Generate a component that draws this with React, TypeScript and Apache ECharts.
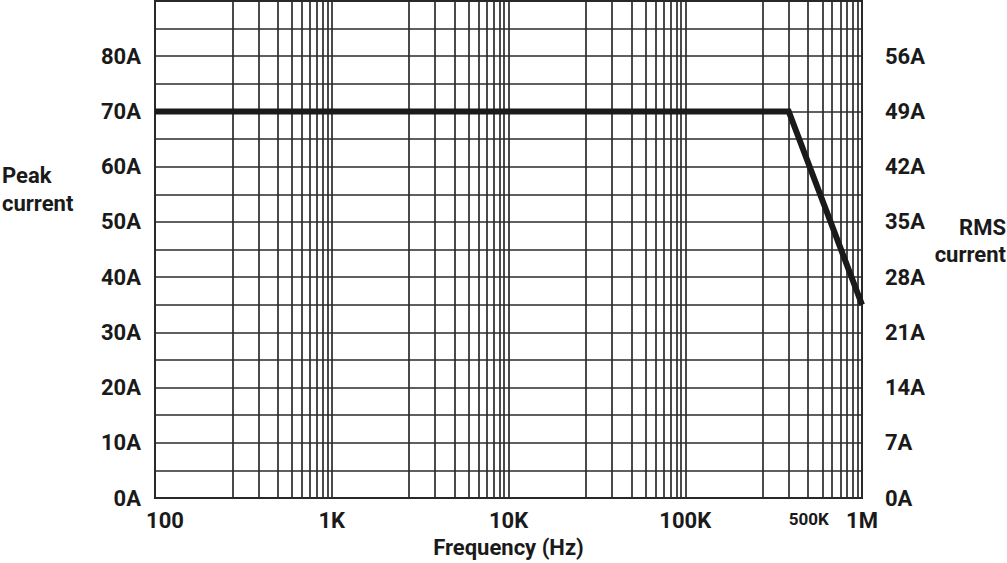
import React, { useEffect, useRef } from "react";
import * as echarts from "echarts";

// ---- data ----
const frequencyHz = [100, 385000, 1000000];
const peakCurrentA = [70, 70, 35];

const xTickValues = [100, 1000, 10000, 100000, 1000000];
const xTickLabels = ["100", "1K", "10K", "100K", "1M"];
const extraXLabelValue = 500000;
const extraXLabelText = "500K";

// minor vertical grid lines per decade (multipliers)
const decadeStarts = [100, 1000, 10000, 100000];
const minorMultipliers = [2.74, 3.85, 4.96, 5.97, 6.77, 7.55, 8.25, 8.91, 9.46];

const peakMax = 90;
const peakStep = 5;
const rmsRatio = 0.7;

const FONT = "Roboto, 'Liberation Sans', sans-serif";
const TEXT = "#1a1a1a";
const GRIDC = "#2b2b2b";
const FS = 22;

export default function App() {
  const ref = useRef<HTMLDivElement>(null);

  useEffect(() => {
    if (!ref.current) return;
    const chart = echarts.init(ref.current, undefined, { renderer: "svg" });

    const minorLines = decadeStarts.flatMap((d) =>
      minorMultipliers.map((m) => ({ xAxis: d * m }))
    );

    const xLabel = (v: number) => {
      const i = xTickValues.findIndex((t) => Math.abs(Math.log10(t) - Math.log10(v)) < 1e-6);
      if (i < 0) return "";
      if (i === 0) return "{first|" + xTickLabels[i] + "}";
      return xTickLabels[i];
    };

    chart.setOption({
      animation: false,
      grid: {
        left: 155,
        right: 145,
        top: 1,
        bottom: 61,
        show: true,
        borderColor: "#222",
        borderWidth: 2,
        backgroundColor: "transparent",
      },
      textStyle: { fontFamily: FONT },
      xAxis: {
        type: "log",
        logBase: 10,
        min: 100,
        max: 1000000,
        axisLine: { show: false },
        axisTick: { show: false },
        axisLabel: {
          formatter: xLabel,
          color: TEXT,
          fontFamily: FONT,
          fontWeight: "bold",
          fontSize: FS,
          margin: 11,
          rich: {
            first: {
              fontFamily: FONT,
              fontWeight: "bold",
              fontSize: FS,
              color: TEXT,
              padding: [0, 0, 0, 20],
            },
          },
        },
        splitLine: { show: true, lineStyle: { color: GRIDC, width: 1.7 } },
        name: "Frequency (Hz)",
        nameLocation: "middle",
        nameGap: 34,
        nameTextStyle: { color: TEXT, fontFamily: FONT, fontWeight: "bold", fontSize: FS },
      },
      yAxis: [
        {
          type: "value",
          min: 0,
          max: peakMax,
          interval: peakStep,
          axisLine: { show: false },
          axisTick: { show: false },
          axisLabel: {
            formatter: (v: number) => {
              const k = Math.round(v / peakStep);
              return k % 2 === 0 && v < peakMax ? v + "A" : "";
            },
            color: TEXT,
            fontFamily: FONT,
            fontWeight: "bold",
            fontSize: FS,
            margin: 14,
          },
          splitLine: { show: true, lineStyle: { color: GRIDC, width: 1.7 } },
        },
        {
          type: "value",
          position: "right",
          min: 0,
          max: peakMax * rmsRatio,
          interval: peakStep * rmsRatio,
          axisLine: { show: false },
          axisTick: { show: false },
          axisLabel: {
            formatter: (v: number) => {
              const k = Math.round(v / (peakStep * rmsRatio));
              return k % 2 === 0 && k < peakMax / peakStep ? Math.round(v) + "A" : "";
            },
            color: TEXT,
            fontFamily: FONT,
            fontWeight: "bold",
            fontSize: FS,
            margin: 23,
          },
          splitLine: { show: false },
        },
      ],
      series: [
        {
          type: "line",
          name: "grid",
          data: [],
          z: 1,
          silent: true,
          markLine: {
            silent: true,
            z: 1,
            symbol: ["none", "none"],
            label: { show: false },
            emphasis: { disabled: true },
            lineStyle: { color: GRIDC, width: 1.7, type: "solid" },
            data: [
              ...minorLines,
              {
                xAxis: extraXLabelValue,
                lineStyle: { color: "rgba(0,0,0,0)", width: 0 },
                label: {
                  show: true,
                  position: "start",
                  distance: 12,
                  formatter: extraXLabelText,
                  color: TEXT,
                  fontFamily: FONT,
                  fontWeight: "bold",
                  fontSize: 17,
                },
              },
            ],
          },
        },
        {
          type: "line",
          name: "Peak current",
          z: 10,
          symbol: "none",
          silent: true,
          data: frequencyHz.map((f, i) => [f, peakCurrentA[i]]),
          lineStyle: { color: "#1a1a1a", width: 6, join: "miter" },
        },
      ],
      graphic: [
        {
          type: "text",
          x: 2,
          y: 161,
          style: {
            text: "Peak\ncurrent",
            font: "bold " + FS + "px " + FONT,
            fill: TEXT,
            lineHeight: 28,
            align: "left",
            verticalAlign: "top",
          },
        },
        {
          type: "text",
          x: 1006,
          y: 214,
          style: {
            text: "RMS\ncurrent",
            font: "bold " + FS + "px " + FONT,
            fill: TEXT,
            lineHeight: 27,
            align: "right",
            verticalAlign: "top",
          },
        },
      ],
    });

    return () => chart.dispose();
  }, []);

  return (
    <div
      ref={ref}
      style={{ position: "fixed", left: 0, top: 0, width: 1007, height: 563, background: "#fff" }}
    />
  );
}
